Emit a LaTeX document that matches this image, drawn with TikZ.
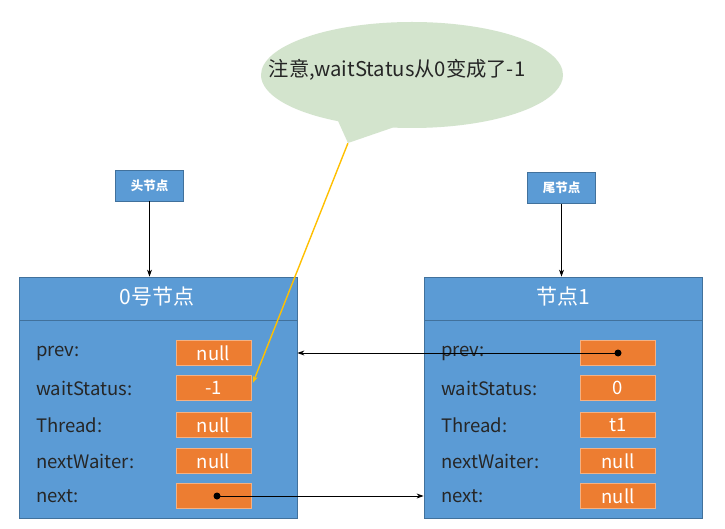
\documentclass[tikz,border=0pt]{standalone}
\usepackage{fontspec}
\setmainfont{Noto Sans CJK SC}
\usetikzlibrary{arrows.meta,shapes.callouts,calc}
\definecolor{nodeblue}{RGB}{91,155,213}
\definecolor{nodeborder}{RGB}{65,113,156}
\definecolor{valorange}{RGB}{237,125,49}
\definecolor{valborder}{RGB}{244,177,131}
\definecolor{calloutgreen}{RGB}{211,228,205}
\definecolor{lineyellow}{RGB}{255,192,0}
\tikzset{
  mainbox/.style={draw=nodeborder,fill=nodeblue,line width=0.8pt,minimum width=278pt,minimum height=241pt,inner sep=0pt},
  tagbox/.style={draw=nodeborder,fill=nodeblue,line width=0.8pt,minimum width=68pt,minimum height=31pt,inner sep=0pt,text=white,font=\fontsize{12.5}{14}\selectfont\bfseries},
  titletext/.style={text=white,font=\fontsize{21}{24}\selectfont},
  fieldlabel/.style={anchor=west,text=black!85,font=\fontsize{18.5}{22}\selectfont,inner sep=0pt},
  valbox/.style={draw=valborder,fill=valorange,line width=0.6pt,minimum width=75pt,minimum height=25pt,inner sep=0pt,text=white,font=\fontsize{18.5}{22}\selectfont},
  ptr/.style={-{Stealth[length=7pt,width=5pt]},black,line width=0.9pt},
  dotmark/.style={circle,fill=black,inner sep=0pt,minimum size=7pt},
}
\begin{document}
\begin{tikzpicture}[x=1pt,y=-1pt]
\useasboundingbox (0,0) rectangle (725,529);
\fill[white] (0,0) rectangle (725,529);

% callout
\node[ellipse callout,fill=calloutgreen,minimum width=302pt,minimum height=106pt,inner sep=0pt,
      callout absolute pointer={(348,143)},callout pointer arc=22] (note) at (412,75) {};
\node[text=black!85,font=\fontsize{20.3}{23}\selectfont,inner sep=0pt] (notetext) at (397,70) {注意,waitStatus从0变成了-1};

% tags
\node[tagbox] (head) at (149.5,185.5) {头节点};
\node[tagbox] (tail) at (561.5,188) {尾节点};

% left node
\node[mainbox] (n0) at (158,397.5) {};
\draw[nodeborder,line width=0.8pt] (19,320) -- (297,320);
\node[titletext] (n0title) at (157,297) {0号节点};
\node[fieldlabel] (l0) at (36,353) {prev:};
\node[fieldlabel] (l1) at (36,388) {waitStatus:};
\node[fieldlabel] (l2) at (36,425) {Thread:};
\node[fieldlabel] (l3) at (36,461) {nextWaiter:};
\node[fieldlabel] (l4) at (36,496) {next:};
\node[valbox] (lv0) at (213.5,353) {null};
\node[valbox] (lv1) at (213.5,388) {-1};
\node[valbox] (lv2) at (213.5,425) {null};
\node[valbox] (lv3) at (213.5,461) {null};
\node[valbox] (lv4) at (213.5,496) {};

% right node
\node[mainbox] (n1) at (563,397.5) {};
\draw[nodeborder,line width=0.8pt] (424,320) -- (702,320);
\node[titletext] (n1title) at (563,297) {节点1};
\node[fieldlabel] (r0) at (441,353) {prev:};
\node[fieldlabel] (r1) at (441,388) {waitStatus:};
\node[fieldlabel] (r2) at (441,425) {Thread:};
\node[fieldlabel] (r3) at (441,461) {nextWaiter:};
\node[fieldlabel] (r4) at (441,496) {next:};
\node[valbox] (rv0) at (618,353) {};
\node[valbox] (rv1) at (618,388) {0};
\node[valbox] (rv2) at (618,425) {t1};
\node[valbox] (rv3) at (618,461) {null};
\node[valbox] (rv4) at (618,496) {null};

% tag arrows
\draw[ptr] (head.south) -- (head.south |- n0.north);
\draw[ptr] (tail.south) -- (tail.south |- n1.north);

% pointers
\node[dotmark] (pdot) at (618,353) {};
\node[dotmark] (ndot) at (217,496) {};
\draw[ptr] (pdot.center) -- (pdot.center -| n0.east);
\draw[ptr] (ndot.center) -- (ndot.center -| n1.west);

% yellow line
\coordinate (ytip) at ($(lv1.east)+(1.5,-5)$);
\draw[lineyellow,line width=1.4pt,-{Stealth[length=7pt,width=5pt]}] (note.pointer) -- (ytip);
\end{tikzpicture}
\end{document}
